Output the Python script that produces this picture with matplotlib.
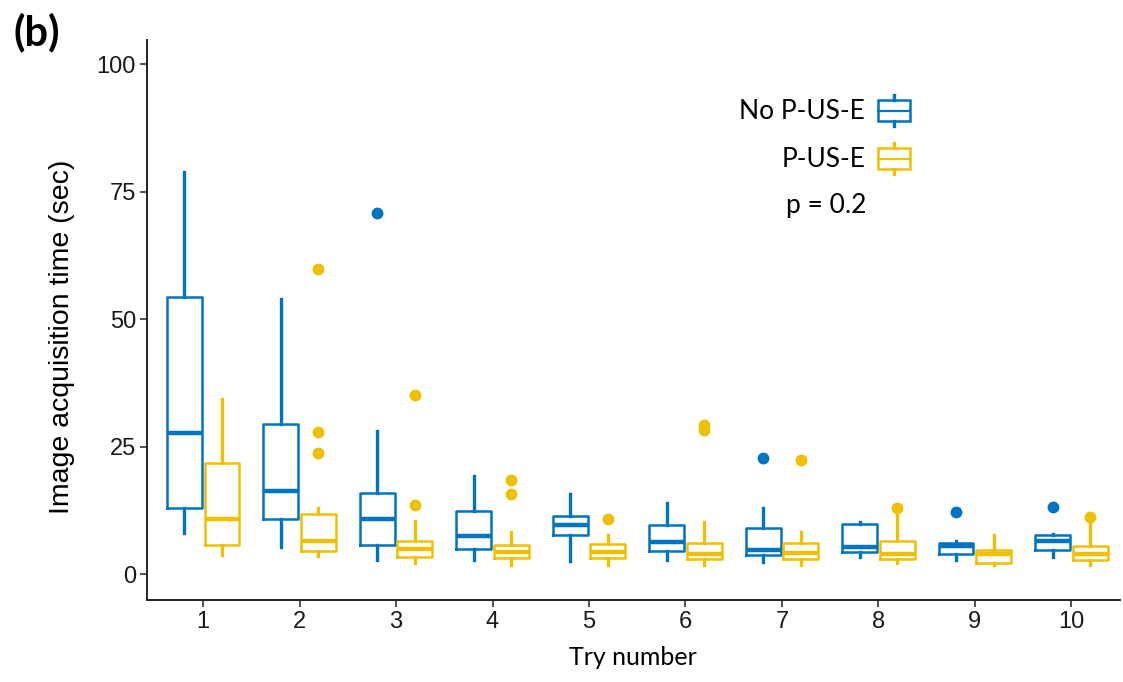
import matplotlib
matplotlib.use("Agg")
import matplotlib.pyplot as plt
from matplotlib.legend_handler import HandlerBase
from matplotlib.patches import Rectangle
from matplotlib.lines import Line2D

tries = [1, 2, 3, 4, 5, 6, 7, 8, 9, 10]

# No P-US-E (blue)
no_whislo = [8.1, 5.4, 2.7, 2.7, 2.6, 2.7, 2.4, 3.4, 2.7, 3.3]
no_q1 = [12.9, 10.8, 5.8, 4.9, 7.6, 4.5, 3.7, 4.4, 4.0, 4.7]
no_med = [27.7, 16.3, 10.9, 7.5, 9.7, 6.3, 4.7, 5.4, 5.5, 6.5]
no_q3 = [54.4, 29.5, 16.0, 12.4, 11.4, 9.7, 9.1, 9.9, 6.1, 7.6]
no_whishi = [78.9, 53.9, 28.0, 19.2, 15.7, 14.0, 12.9, 10.2, 6.5, 7.8]
no_fliers = [[], [], [70.8], [], [], [], [22.7], [], [12.1], [13.2]]

# P-US-E (yellow)
p_whislo = [3.7, 3.5, 2.2, 1.8, 1.8, 1.8, 1.8, 2.1, 1.8, 1.8]
p_q1 = [5.8, 4.5, 3.4, 3.1, 3.1, 2.9, 2.9, 2.9, 2.2, 2.7]
p_med = [10.8, 6.5, 5.0, 4.4, 4.4, 3.9, 4.2, 4.0, 3.9, 4.0]
p_q3 = [21.7, 11.7, 6.5, 5.8, 5.9, 6.1, 6.1, 6.5, 4.8, 5.5]
p_whishi = [34.4, 12.9, 10.4, 8.3, 7.6, 10.3, 8.3, 12.0, 7.6, 10.3]
p_fliers = [[], [59.8, 27.9, 23.8], [35.2, 13.5], [18.4, 15.7], [10.9],
            [28.3, 29.2], [22.4], [12.9], [], [11.2]]

BLUE = "#0073C2"
YELLOW = "#EFC000"
TEXT_FONT = "Lato"
TICK_FONT = "Liberation Sans"


def make_stats(lo, q1, med, q3, hi, fl):
    return [dict(whislo=a, q1=b, med=c, q3=d, whishi=e, fliers=f)
            for a, b, c, d, e, f in zip(lo, q1, med, q3, hi, fl)]


def draw_group(ax, stats, offset, color):
    pos = [t + offset for t in tries]
    ax.bxp(stats, positions=pos, widths=0.36, showcaps=False,
           boxprops=dict(color=color, linewidth=1.8),
           medianprops=dict(color=color, linewidth=3.2),
           whiskerprops=dict(color=color, linewidth=2.4),
           flierprops=dict(marker="o", markerfacecolor=color,
                           markeredgecolor=color, markersize=7.5),
           manage_ticks=False)


class BoxKey(HandlerBase):
    def create_artists(self, legend, orig_handle, xdescent, ydescent,
                       width, height, fontsize, trans):
        c = orig_handle.get_color()
        x0 = -xdescent
        y0 = -ydescent
        rect = Rectangle((x0, y0 + height * 0.16), width, height * 0.68,
                         facecolor="white", edgecolor=c, linewidth=1.8,
                         transform=trans)
        mid = Line2D([x0, x0 + width], [y0 + height * 0.5] * 2, color=c,
                     linewidth=1.6, transform=trans)
        cx = x0 + width / 2
        top = Line2D([cx, cx], [y0 + height * 0.84, y0 + height], color=c,
                     linewidth=2.4, transform=trans)
        bot = Line2D([cx, cx], [y0, y0 + height * 0.16], color=c,
                     linewidth=2.4, transform=trans)
        return [rect, mid, top, bot]


fig = plt.figure(figsize=(11.23, 6.82), dpi=100)
ax = fig.add_axes([0.131, 0.12, 0.866, 0.821])

draw_group(ax, make_stats(no_whislo, no_q1, no_med, no_q3, no_whishi, no_fliers),
           -0.195, BLUE)
draw_group(ax, make_stats(p_whislo, p_q1, p_med, p_q3, p_whishi, p_fliers),
           0.195, YELLOW)

ax.set_xlim(0.42, 10.5)
ax.set_ylim(-5.1, 104.7)
ax.set_xticks(tries)
ax.set_xticklabels([str(t) for t in tries])
ax.set_yticks([0, 25, 50, 75, 100])
for lab in ax.get_xticklabels() + ax.get_yticklabels():
    lab.set_fontfamily(TICK_FONT)
    lab.set_fontsize(17)
    lab.set_color("#1a1a1a")
ax.tick_params(direction="out", length=5, width=1.2, color="#333333", pad=3)

for s in ["top", "right"]:
    ax.spines[s].set_visible(False)
for s in ["left", "bottom"]:
    ax.spines[s].set_linewidth(1.4)
    ax.spines[s].set_color("#222222")

ax.set_xlabel("Try number", fontfamily=TEXT_FONT, fontsize=18, labelpad=9)
ax.set_ylabel("Image acquisition time (sec)", fontfamily=TICK_FONT,
              fontsize=20.5)
ax.yaxis.set_label_coords(-0.074, 0.47)

handles = [Line2D([], [], color=BLUE), Line2D([], [], color=YELLOW)]
leg = ax.legend(handles, ["No P-US-E", "P-US-E"], handler_map={Line2D: BoxKey()},
                loc="upper right", bbox_to_anchor=(0.798, 0.925),
                frameon=False, markerfirst=False, borderpad=0,
                handlelength=1.2, handleheight=1.4, labelspacing=0.66,
                handletextpad=0.5, prop=dict(family=TEXT_FONT, size=19))

ax.text(0.698, 0.705, "p = 0.2", transform=ax.transAxes, ha="center",
        va="center", fontfamily=TEXT_FONT, fontsize=19)

fig.text(0.012, 0.953, "(b)", fontfamily=TEXT_FONT, fontweight="bold",
         fontsize=30, va="center")

fig.savefig("out.png", dpi=100)
